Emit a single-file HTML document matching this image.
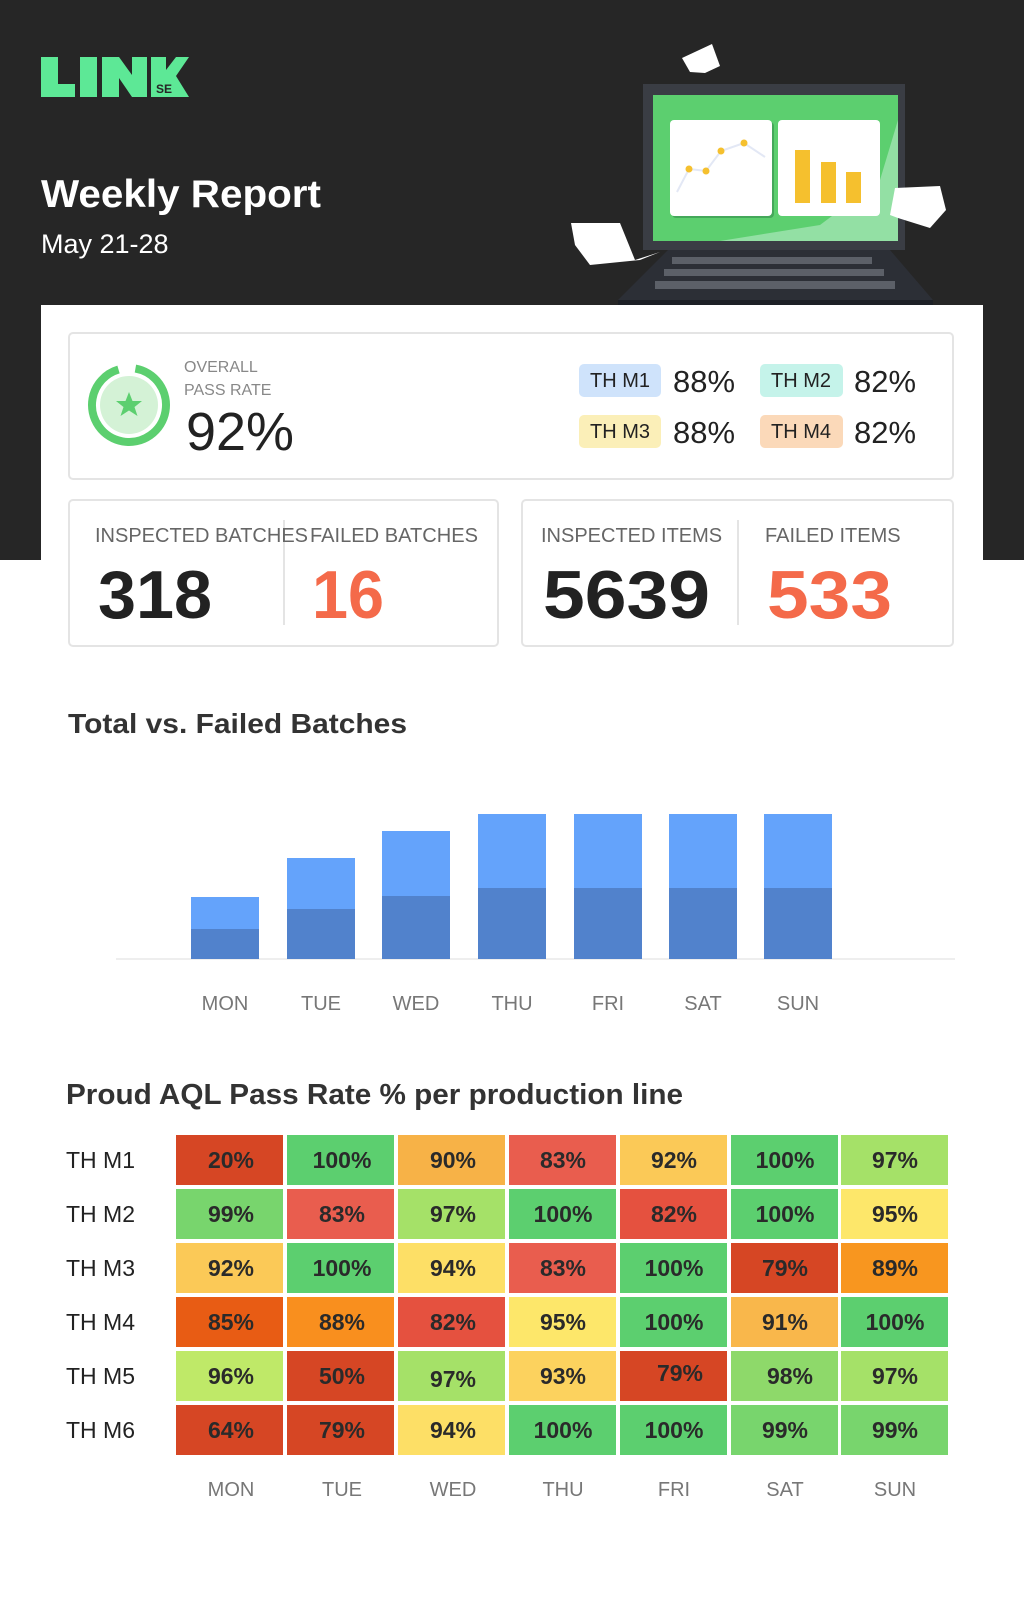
<!DOCTYPE html>
<html><head><meta charset="utf-8"><style>
html,body{margin:0;padding:0;background:#fff}
svg{display:block}
text{font-family:"Liberation Sans",sans-serif}
</style></head><body>
<svg width="1024" height="1607" viewBox="0 0 1024 1607" xmlns="http://www.w3.org/2000/svg">
<rect x="0" y="0" width="1024" height="560" fill="#262626"/>
<!-- logo -->
<g fill="#5de896">
<rect x="41" y="57" width="17" height="40"/><rect x="41" y="84" width="34" height="13"/>
<rect x="80" y="57" width="17" height="40"/>
<polygon points="102,57 119,57 132,75 132,57 147,57 147,97 132,97 119,78 119,97 102,97"/>
<polygon points="151,57 166,57 166,70 176,57 189,57 176,76 189,97 151,97"/>
</g>
<text x="156" y="93" font-size="12" font-weight="bold" fill="#262626">SE</text>
<text x="41" y="207" font-size="39" font-weight="bold" fill="#fff" textLength="280" lengthAdjust="spacingAndGlyphs">Weekly Report</text>
<text x="41" y="253" font-size="27" fill="#fff">May 21-28</text>
<!-- laptop -->
<polygon points="682,58 712,44 720,66 705,73 690,72" fill="#fff"/>
<rect x="643" y="84" width="262" height="166" fill="#3a3d44"/>
<rect x="653" y="95" width="245" height="146" fill="#5ccf6f"/>
<polygon points="898,120 898,241 720,241 820,225 880,180" fill="#93e0a4"/>
<rect x="672" y="122" width="102" height="96" rx="4" fill="#44a85a"/>
<rect x="670" y="120" width="102" height="96" rx="4" fill="#fff"/>
<rect x="778" y="120" width="102" height="96" rx="4" fill="#fff"/>
<polyline points="677,192 689,169 706,171 721,151 744,143 765,157" fill="none" stroke="#e3e8f5" stroke-width="2"/>
<g fill="#f5c02e"><circle cx="689" cy="169" r="3.5"/><circle cx="706" cy="171" r="3.5"/><circle cx="721" cy="151" r="3.5"/><circle cx="744" cy="143" r="3.5"/>
<rect x="795" y="150" width="15" height="53"/><rect x="821" y="162" width="15" height="41"/><rect x="846" y="172" width="15" height="31"/></g>
<polygon points="668,250 890,250 933,300 618,300" fill="#2c2f36"/>
<rect x="618" y="300" width="315" height="8" fill="#1d2026"/>
<g fill="#5c6068">
<rect x="672" y="257" width="200" height="7"/><rect x="664" y="269" width="220" height="7"/><rect x="655" y="281" width="240" height="8"/>
</g>
<polygon points="571,223 620,223 635,260 660,252 640,260 590,265 575,245" fill="#fff"/>
<polygon points="895,188 940,186 946,210 930,228 898,218 890,215" fill="#fff"/>
<!-- white panel -->
<rect x="41" y="305" width="942" height="1302" fill="#fff"/>
<rect x="69" y="333" width="884" height="146" rx="4" fill="#fff" stroke="#e4e4e4" stroke-width="2"/>
<circle cx="129" cy="405" r="29" fill="#d4f2d6"/>
<circle cx="129" cy="405" r="37" fill="none" stroke="#5ccf6f" stroke-width="8" stroke-dasharray="215 40" transform="rotate(-80 129 405)"/>
<polygon points="129,392 132.5,401 142,401 134.5,407 137.5,416 129,410.5 120.5,416 123.5,407 116,401 125.5,401" fill="#5ccf6f"/>
<text x="184" y="372" font-size="16" fill="#888">OVERALL</text>
<text x="184" y="395" font-size="16" fill="#888">PASS RATE</text>
<text x="186" y="450" font-size="54" fill="#222" textLength="108" lengthAdjust="spacingAndGlyphs">92%</text>
<rect x="579" y="364" width="82" height="33" rx="5" fill="#cfe3fb"/><text x="620" y="387" font-size="20" fill="#222" text-anchor="middle">TH M1</text>
<text x="673" y="392" font-size="31" fill="#222" textLength="62" lengthAdjust="spacingAndGlyphs">88%</text>
<rect x="760" y="364" width="83" height="33" rx="5" fill="#c5f3ea"/><text x="801" y="387" font-size="20" fill="#222" text-anchor="middle">TH M2</text>
<text x="854" y="392" font-size="31" fill="#222" textLength="62" lengthAdjust="spacingAndGlyphs">82%</text>
<rect x="579" y="415" width="82" height="33" rx="5" fill="#fbefb8"/><text x="620" y="438" font-size="20" fill="#222" text-anchor="middle">TH M3</text>
<text x="673" y="443" font-size="31" fill="#222" textLength="62" lengthAdjust="spacingAndGlyphs">88%</text>
<rect x="760" y="415" width="83" height="33" rx="5" fill="#fbd9b9"/><text x="801" y="438" font-size="20" fill="#222" text-anchor="middle">TH M4</text>
<text x="854" y="443" font-size="31" fill="#222" textLength="62" lengthAdjust="spacingAndGlyphs">82%</text>
<!-- stat cards -->
<rect x="69" y="500" width="429" height="146" rx="4" fill="#fff" stroke="#e4e4e4" stroke-width="2"/>
<rect x="522" y="500" width="431" height="146" rx="4" fill="#fff" stroke="#e4e4e4" stroke-width="2"/>
<line x1="284" y1="520" x2="284" y2="625" stroke="#e4e4e4" stroke-width="2"/>
<line x1="738" y1="520" x2="738" y2="625" stroke="#e4e4e4" stroke-width="2"/>
<text x="95" y="542" font-size="20" fill="#666" textLength="213" lengthAdjust="spacingAndGlyphs">INSPECTED BATCHES</text>
<text x="310" y="542" font-size="20" fill="#666" textLength="168" lengthAdjust="spacingAndGlyphs">FAILED BATCHES</text>
<text x="541" y="542" font-size="20" fill="#666">INSPECTED ITEMS</text>
<text x="765" y="542" font-size="20" fill="#666">FAILED ITEMS</text>
<text x="98" y="618" font-size="68" font-weight="bold" fill="#222" textLength="114" lengthAdjust="spacingAndGlyphs">318</text>
<text x="312" y="618" font-size="68" font-weight="bold" fill="#f46a4a" textLength="72" lengthAdjust="spacingAndGlyphs">16</text>
<text x="543" y="618" font-size="68" font-weight="bold" fill="#222" textLength="167" lengthAdjust="spacingAndGlyphs">5639</text>
<text x="767" y="618" font-size="68" font-weight="bold" fill="#f46a4a" textLength="125" lengthAdjust="spacingAndGlyphs">533</text>
<!-- bar chart -->
<text x="68" y="733" font-size="28" font-weight="bold" fill="#333" textLength="339" lengthAdjust="spacingAndGlyphs">Total vs. Failed Batches</text>
<line x1="116" y1="959" x2="955" y2="959" stroke="#eee" stroke-width="2"/>
<g>
<rect x="191" y="897" width="68" height="62" fill="#64a3fb"/><rect x="191" y="929" width="68" height="30" fill="#5182cc"/>
<rect x="287" y="858" width="68" height="101" fill="#64a3fb"/><rect x="287" y="909" width="68" height="50" fill="#5182cc"/>
<rect x="382" y="831" width="68" height="128" fill="#64a3fb"/><rect x="382" y="896" width="68" height="63" fill="#5182cc"/>
<rect x="478" y="814" width="68" height="145" fill="#64a3fb"/><rect x="478" y="888" width="68" height="71" fill="#5182cc"/>
<rect x="574" y="814" width="68" height="145" fill="#64a3fb"/><rect x="574" y="888" width="68" height="71" fill="#5182cc"/>
<rect x="669" y="814" width="68" height="145" fill="#64a3fb"/><rect x="669" y="888" width="68" height="71" fill="#5182cc"/>
<rect x="764" y="814" width="68" height="145" fill="#64a3fb"/><rect x="764" y="888" width="68" height="71" fill="#5182cc"/>
</g>
<g font-size="20" fill="#777" text-anchor="middle">
<text x="225" y="1010">MON</text><text x="321" y="1010">TUE</text><text x="416" y="1010">WED</text><text x="512" y="1010">THU</text><text x="608" y="1010">FRI</text><text x="703" y="1010">SAT</text><text x="798" y="1010">SUN</text>
</g>
<!-- heatmap -->
<text x="66" y="1104" font-size="29" font-weight="bold" fill="#333" textLength="617" lengthAdjust="spacingAndGlyphs">Proud AQL Pass Rate % per production line</text>
<g font-size="23" fill="#222">
<text x="66" y="1168">TH M1</text><text x="66" y="1222">TH M2</text><text x="66" y="1276">TH M3</text><text x="66" y="1330">TH M4</text><text x="66" y="1384">TH M5</text><text x="66" y="1438">TH M6</text>
</g>
<g font-size="20" fill="#777" text-anchor="middle">
<text x="231" y="1496">MON</text><text x="342" y="1496">TUE</text><text x="453" y="1496">WED</text><text x="563" y="1496">THU</text><text x="674" y="1496">FRI</text><text x="785" y="1496">SAT</text><text x="895" y="1496">SUN</text>
</g>
<g font-size="23" font-weight="bold" fill="#2a2a2a" text-anchor="middle">
<rect x="176" y="1135" width="107" height="50" fill="#d64624"/><text x="231" y="1168">20%</text>
<rect x="287" y="1135" width="107" height="50" fill="#5ccf6f"/><text x="342" y="1168">100%</text>
<rect x="398" y="1135" width="107" height="50" fill="#f7b247"/><text x="453" y="1168">90%</text>
<rect x="509" y="1135" width="107" height="50" fill="#e95d4e"/><text x="563" y="1168">83%</text>
<rect x="620" y="1135" width="107" height="50" fill="#fbc957"/><text x="674" y="1168">92%</text>
<rect x="731" y="1135" width="107" height="50" fill="#5ccf6f"/><text x="785" y="1168">100%</text>
<rect x="841" y="1135" width="107" height="50" fill="#a5e168"/><text x="895" y="1168">97%</text>
<rect x="176" y="1189" width="107" height="50" fill="#78d56d"/><text x="231" y="1222">99%</text>
<rect x="287" y="1189" width="107" height="50" fill="#e95d4e"/><text x="342" y="1222">83%</text>
<rect x="398" y="1189" width="107" height="50" fill="#a5e168"/><text x="453" y="1222">97%</text>
<rect x="509" y="1189" width="107" height="50" fill="#5ccf6f"/><text x="563" y="1222">100%</text>
<rect x="620" y="1189" width="107" height="50" fill="#e5513f"/><text x="674" y="1222">82%</text>
<rect x="731" y="1189" width="107" height="50" fill="#5ccf6f"/><text x="785" y="1222">100%</text>
<rect x="841" y="1189" width="107" height="50" fill="#fde76a"/><text x="895" y="1222">95%</text>
<rect x="176" y="1243" width="107" height="50" fill="#fbc957"/><text x="231" y="1276">92%</text>
<rect x="287" y="1243" width="107" height="50" fill="#5ccf6f"/><text x="342" y="1276">100%</text>
<rect x="398" y="1243" width="107" height="50" fill="#fddf66"/><text x="453" y="1276">94%</text>
<rect x="509" y="1243" width="107" height="50" fill="#e95d4e"/><text x="563" y="1276">83%</text>
<rect x="620" y="1243" width="107" height="50" fill="#5ccf6f"/><text x="674" y="1276">100%</text>
<rect x="731" y="1243" width="107" height="50" fill="#d64624"/><text x="785" y="1276">79%</text>
<rect x="841" y="1243" width="107" height="50" fill="#f8961f"/><text x="895" y="1276">89%</text>
<rect x="176" y="1297" width="107" height="50" fill="#e85c14"/><text x="231" y="1330">85%</text>
<rect x="287" y="1297" width="107" height="50" fill="#f98f1e"/><text x="342" y="1330">88%</text>
<rect x="398" y="1297" width="107" height="50" fill="#e5513f"/><text x="453" y="1330">82%</text>
<rect x="509" y="1297" width="107" height="50" fill="#fde76a"/><text x="563" y="1330">95%</text>
<rect x="620" y="1297" width="107" height="50" fill="#5ccf6f"/><text x="674" y="1330">100%</text>
<rect x="731" y="1297" width="107" height="50" fill="#f9b74b"/><text x="785" y="1330">91%</text>
<rect x="841" y="1297" width="107" height="50" fill="#5ccf6f"/><text x="895" y="1330">100%</text>
<rect x="176" y="1351" width="107" height="50" fill="#bfe968"/><text x="231" y="1384">96%</text>
<rect x="287" y="1351" width="107" height="50" fill="#d64624"/><text x="342" y="1384">50%</text>
<rect x="398" y="1351" width="107" height="50" fill="#a5e168"/><text x="453" y="1387">97%</text>
<rect x="509" y="1351" width="107" height="50" fill="#fcd25e"/><text x="563" y="1384">93%</text>
<rect x="620" y="1351" width="107" height="50" fill="#d64624"/><text x="680" y="1381">79%</text>
<rect x="731" y="1351" width="107" height="50" fill="#8ed96a"/><text x="790" y="1384">98%</text>
<rect x="841" y="1351" width="107" height="50" fill="#a5e168"/><text x="895" y="1384">97%</text>
<rect x="176" y="1405" width="107" height="50" fill="#d64624"/><text x="231" y="1438">64%</text>
<rect x="287" y="1405" width="107" height="50" fill="#d64624"/><text x="342" y="1438">79%</text>
<rect x="398" y="1405" width="107" height="50" fill="#fddf66"/><text x="453" y="1438">94%</text>
<rect x="509" y="1405" width="107" height="50" fill="#5ccf6f"/><text x="563" y="1438">100%</text>
<rect x="620" y="1405" width="107" height="50" fill="#5ccf6f"/><text x="674" y="1438">100%</text>
<rect x="731" y="1405" width="107" height="50" fill="#78d56d"/><text x="785" y="1438">99%</text>
<rect x="841" y="1405" width="107" height="50" fill="#78d56d"/><text x="895" y="1438">99%</text>
</g>
</svg>
</body></html>
